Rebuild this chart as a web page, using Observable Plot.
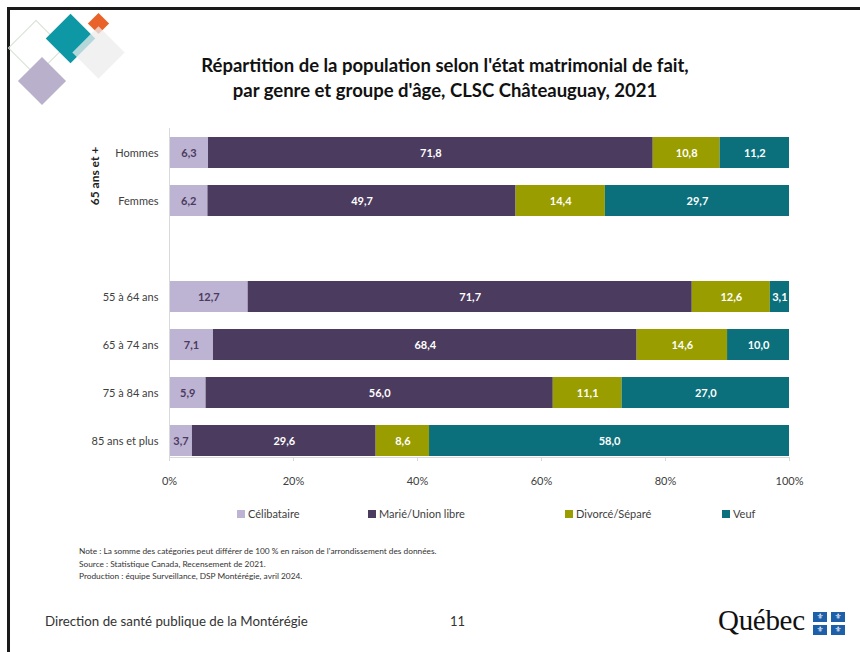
<!DOCTYPE html>
<html><head><meta charset="utf-8">
<script src="https://cdn.jsdelivr.net/npm/d3@7"></script>
<script src="https://cdn.jsdelivr.net/npm/@observablehq/plot@0.6"></script>
<style>
html,body{margin:0;padding:0;background:#fff;}
body{width:860px;height:652px;position:relative;overflow:hidden;font-family:Lato,"Open Sans",sans-serif;}
.frame{position:absolute;left:7px;top:7px;width:900px;height:700px;border-top:3px solid #1a1a1a;border-left:3px solid #1a1a1a;}
.dm{position:absolute;transform:rotate(45deg);}
#title{position:absolute;left:0;width:890px;top:53px;text-align:center;font-weight:bold;font-size:18.5px;line-height:25px;color:#111;}
#chart{position:absolute;left:0;top:110px;}
#group{position:absolute;left:94px;top:176px;transform:translate(-50%,-50%) rotate(-90deg);font-weight:bold;font-size:12px;color:#222;white-space:nowrap;}
#legend{position:absolute;top:507px;left:0;width:860px;height:18px;font-size:11px;color:#404040;}
#legend .item{position:absolute;display:flex;align-items:center;white-space:nowrap;}
#legend .sw{width:8px;height:8px;margin-right:3px;}
#legend .item:nth-child(1){left:237px;}
#legend .item:nth-child(2){left:368px;}
#legend .item:nth-child(3){left:565px;}
#legend .item:nth-child(4){left:722px;}
#notes{position:absolute;left:79px;top:545px;font-size:8.3px;line-height:12.5px;color:#333;}
#footer{position:absolute;left:45px;top:613px;font-size:13.3px;color:#333;}
#page{position:absolute;left:450px;top:613px;font-size:13px;color:#333;}
#quebec{position:absolute;left:718px;top:604px;font-family:"Liberation Serif","DejaVu Serif",serif;font-size:29px;color:#111;letter-spacing:-0.3px;}
#flag{position:absolute;left:813px;top:612px;width:32px;height:23px;display:grid;grid-template-columns:14px 14px;grid-template-rows:10px 10px;gap:3px 4px;}
#flag div{background:#1d5fa8;color:#fff;font-size:8px;line-height:10px;text-align:center;font-family:"DejaVu Sans",sans-serif;}
</style>
</head><body>
<div class="frame"></div>
<div class="dm" style="left:16px;top:28px;width:38px;height:38px;border:1.5px solid #d8e2d3;"></div>
<div class="dm" style="left:25px;top:64px;width:34px;height:34px;background:#b9b0cb;"></div>
<div class="dm" style="left:53px;top:21px;width:35px;height:35px;background:#0e97a5;"></div>
<div class="dm" style="left:91px;top:16px;width:15px;height:15px;background:#e8622a;"></div>
<div class="dm" style="left:80px;top:34px;width:37px;height:37px;background:rgba(236,236,236,0.75);"></div>

<div id="title">Répartition de la population selon l'état matrimonial de fait,<br>par genre et groupe d'âge, CLSC Châteauguay, 2021</div>
<div id="chart"></div>
<div id="group">65 ans et +</div>
<div id="legend"></div>
<div id="notes">Note : La somme des catégories peut différer de 100 % en raison de l'arrondissement des données.<br>Source : Statistique Canada, Recensement de 2021.<br>Production : équipe Surveillance, DSP Montérégie, avril 2024.</div>
<div id="footer">Direction de santé publique de la Montérégie</div>
<div id="page">11</div>
<div id="quebec">Québec</div>
<div id="flag"><div>⚜</div><div>⚜</div><div>⚜</div><div>⚜</div></div>

<script>
const categories = ["Hommes", "Femmes", "55 à 64 ans", "65 à 74 ans", "75 à 84 ans", "85 ans et plus"];
const rowOrder = ["Hommes", "Femmes", "", "55 à 64 ans", "65 à 74 ans", "75 à 84 ans", "85 ans et plus"];
const statuses = ["Célibataire", "Marié/Union libre", "Divorcé/Séparé", "Veuf"];
const celibataire = [6.3, 6.2, 12.7, 7.1, 5.9, 3.7];
const marie = [71.8, 49.7, 71.7, 68.4, 56.0, 29.6];
const divorce = [10.8, 14.4, 12.6, 14.6, 11.1, 8.6];
const veuf = [11.2, 29.7, 3.1, 10.0, 27.0, 58.0];
const xTicks = [0, 0.2, 0.4, 0.6, 0.8, 1];
const colors = ["#bdb3d3", "#4b3b5e", "#9a9d00", "#0b6f7c"];

const series = [celibataire, marie, divorce, veuf];
const rows = categories.flatMap((c, i) => statuses.map((s, j) => ({cat: c, status: s, value: series[j][i]})));
const fmt = v => v.toFixed(1).replace(".", ",");
const stackOpts = extra => Plot.stackX({offset: "normalize", x: "value", y: "cat", z: "status", ...extra});

const chart = Plot.plot({
  width: 860, height: 390,
  marginLeft: 169, marginRight: 71, marginTop: 18, marginBottom: 43,
  style: {fontFamily: "Lato, 'Open Sans', sans-serif", fontSize: "11px", color: "#404040", background: "transparent"},
  x: {domain: [0, 1], label: null},
  y: {domain: rowOrder, label: null, paddingInner: 0.354, paddingOuter: 0.104, align: 0.9},
  color: {domain: statuses, range: colors},
  marks: [
    Plot.barX(rows, stackOpts({fill: "status"})),
    Plot.text(rows, stackOpts({text: d => d.status === "Célibataire" ? fmt(d.value) : "", fill: "#4b3b5e", fontWeight: "bold", fontSize: 11})),
    Plot.text(rows, stackOpts({text: d => d.status !== "Célibataire" ? fmt(d.value) : "", fill: "white", fontWeight: "bold", fontSize: 11})),
    Plot.ruleX([0], {stroke: "#d9d9d9"}),
    Plot.frame({anchor: "bottom", stroke: "#d9d9d9"}),
    Plot.axisX({ticks: xTicks, tickFormat: d3.format(".0%"), tickSize: 4, stroke: "#d9d9d9", tickPadding: 16, fontSize: 11, color: "#404040", label: null}),
    Plot.axisY({tickSize: 0, tickPadding: 11, fontSize: 11, color: "#404040", label: null})
  ]
});
document.getElementById("chart").appendChild(chart);

const legend = document.getElementById("legend");
statuses.forEach((s, i) => {
  const it = document.createElement("div");
  it.className = "item";
  it.innerHTML = `<span class="sw" style="background:${colors[i]}"></span><span>${s}</span>`;
  legend.appendChild(it);
});
</script>
</body></html>
